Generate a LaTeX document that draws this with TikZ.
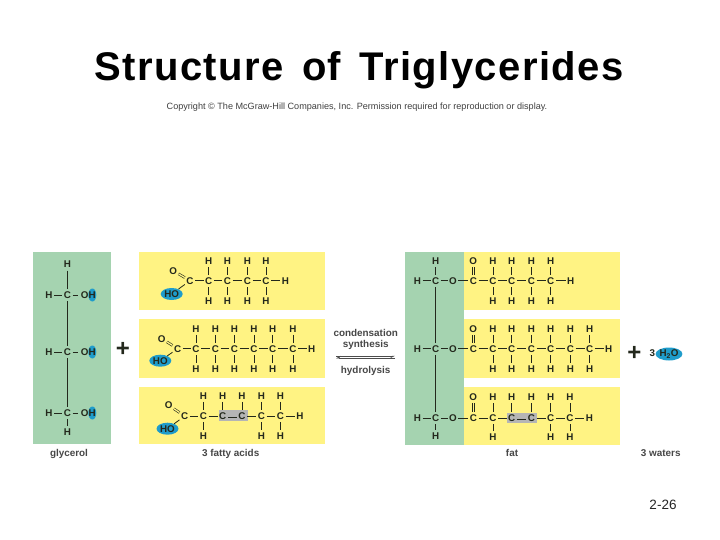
\documentclass[tikz,border=0pt]{standalone}
\usepackage{fontspec}
\setmainfont{Liberation Sans}
\usetikzlibrary{arrows.meta,shapes.geometric}
\definecolor{gl}{HTML}{A5D3B0}
\definecolor{ye}{HTML}{FFF383}
\definecolor{bl}{HTML}{1F9CCB}
\definecolor{gr}{HTML}{B5B5B5}
\definecolor{ink}{HTML}{23281C}
\tikzset{
 atom/.style={inner sep=0pt,minimum width=10pt,minimum height=12pt,font=\bfseries\fontsize{9.8}{10}\selectfont,text=ink},
 bond/.style={draw=ink,line width=0.8pt},
 dbl/.style={draw=ink,line width=0.6pt,double=ye,double distance=1.3pt},
 dblg/.style={draw=ink,line width=0.8pt,double=gr,double distance=1.4pt},
 panelg/.style={fill=gl,draw=none},
 panely/.style={fill=ye,draw=none},
 blob/.style={ellipse,fill=bl,draw=none,inner sep=0pt},
 lab/.style={inner sep=0pt,text height=7pt,text depth=2pt,font=\bfseries\fontsize{9.9}{10}\selectfont,text=black!72},
 plus/.style={inner sep=0pt,font=\bfseries\fontsize{24}{24}\selectfont,text=ink}
}
% \carb{id}{x}{rowy}{topy}{boty}{top?}{bot?}
\newcommand{\carb}[7]{%
 \node[atom] (#1) at (#2,#3) {C};
 \ifnum#6=1 \node[atom] (#1t) at (#2,#4) {H}; \draw[bond] (#1t) -- (#1);\fi
 \ifnum#7=1 \node[atom] (#1b) at (#2,#5) {H}; \draw[bond] (#1b) -- (#1);\fi
}
\begin{document}
\begin{tikzpicture}[x=1pt,y=-1pt]
\useasboundingbox (0,0) rectangle (720,540);
\fill[white] (0,0) rectangle (720,540);
\node[inner sep=0pt,anchor=base,font=\bfseries\fontsize{40}{44}\selectfont,text=black] (title) at (359,81) {\addfontfeature{LetterSpace=3.5}Structure\hspace{6pt} of\hspace{6pt} Triglycerides};
\node[inner sep=0pt,font=\fontsize{9.1}{10}\selectfont,text=black!75] (copy) at (357,107) {Copyright © The McGraw-Hill Companies, Inc. Permission required for reproduction or display.};
\node[inner sep=0pt,font=\fontsize{13.5}{15}\selectfont,text=black!85] (page) at (663,505) {2-26};
% panels
\fill[panelg] (33,252) rectangle (111,444);
\fill[panely] (139.3,252.3) rectangle (325,310);
\fill[panely] (139.3,319.3) rectangle (325,377.7);
\fill[panely] (139.3,386.7) rectangle (325,444.3);
\fill[panely] (464.3,252.3) rectangle (620,310);
\fill[panely] (464.3,319.3) rectangle (620,377.7);
\fill[panely] (464.3,387) rectangle (620,445);
\fill[panelg] (405,252.3) rectangle (464.3,445);
\fill[gr] (218.7,409.7) rectangle (248,421);
\fill[gr] (507.3,412.7) rectangle (536.7,423);
% glycerol
\foreach \n/\y in {a/295,b/352,c/413}{
 \node[blob,minimum width=8pt,minimum height=13pt] (gb\n) at (92.3,\y) {};
 \node[atom] (gh\n) at (49,\y) {H};
 \node[atom] (gc\n) at (67.3,\y) {C};
 \node[atom,minimum width=20pt] (go\n) at (88.3,\y) {OH};
 \draw[bond] (gh\n) -- (gc\n);
 \draw[bond] (gc\n) -- (go\n);
}
\node[atom] (gtop) at (67.3,264.3) {H};
\node[atom] (gbot) at (67.3,432) {H};
\draw[bond] (gtop) -- (gca);
\draw[bond] (gca) -- (gcb);
\draw[bond] (gcb) -- (gcc);
\draw[bond] (gcc) -- (gbot);
\node[lab] (lgly) at (69,454) {glycerol};
\node[plus] (p1) at (123,349.5) {+};
% acid 1
\node[atom] (o1) at (173.3,270.7) {O};
\node[atom] (k1) at (190,280.7) {C};
\node[blob,atom,minimum width=22pt,minimum height=12pt,fill=bl] (ho1) at (171.7,294) {HO};
\draw[dbl] (o1) -- (k1);
\draw[bond] (ho1) -- (k1);
\carb{a1}{208.7}{280.7}{261}{300.7}{1}{1}
\carb{a2}{227.3}{280.7}{261}{300.7}{1}{1}
\carb{a3}{247.3}{280.7}{261}{300.7}{1}{1}
\carb{a4}{266}{280.7}{261}{300.7}{1}{1}
\node[atom] (ae) at (285.3,280.7) {H};
\foreach \p/\q in {k1/a1,a1/a2,a2/a3,a3/a4,a4/ae}{\draw[bond] (\p) -- (\q);}
% acid 2
\node[atom] (o2) at (161.7,338.7) {O};
\node[atom] (k2) at (177.7,348.7) {C};
\node[blob,atom,minimum width=22pt,minimum height=12pt,fill=bl] (ho2) at (160.3,360.7) {HO};
\draw[dbl] (o2) -- (k2);
\draw[bond] (ho2) -- (k2);
\carb{b1}{196}{348.7}{328.7}{368.7}{1}{1}
\carb{b2}{215.3}{348.7}{328.7}{368.7}{1}{1}
\carb{b3}{234.3}{348.7}{328.7}{368.7}{1}{1}
\carb{b4}{254}{348.7}{328.7}{368.7}{1}{1}
\carb{b5}{272.7}{348.7}{328.7}{368.7}{1}{1}
\carb{b6}{293}{348.7}{328.7}{368.7}{1}{1}
\node[atom] (be) at (311.7,348.7) {H};
\foreach \p/\q in {k2/b1,b1/b2,b2/b3,b3/b4,b4/b5,b5/b6,b6/be}{\draw[bond] (\p) -- (\q);}
% acid 3
\node[atom] (o3) at (168.7,405.3) {O};
\node[atom] (k3) at (184.7,416) {C};
\node[blob,atom,minimum width=22pt,minimum height=12pt,fill=bl] (ho3) at (167.5,428.7) {HO};
\draw[dbl] (o3) -- (k3);
\draw[bond] (ho3) -- (k3);
\carb{c1}{203.3}{416}{395.7}{435.7}{1}{1}
\carb{c2}{222.7}{416}{395.7}{435.7}{1}{0}
\carb{c3}{242}{416}{395.7}{435.7}{1}{0}
\carb{c4}{261.3}{416}{395.7}{435.7}{1}{1}
\carb{c5}{280.3}{416}{395.7}{435.7}{1}{1}
\node[atom] (ce) at (300,416) {H};
\draw[dblg] (c2) -- (c3);
\foreach \p/\q in {k3/c1,c1/c2,c3/c4,c4/c5,c5/ce}{\draw[bond] (\p) -- (\q);}
\node[lab] (lfa) at (230.7,454) {3 fatty acids};
% reaction arrows
\node[lab] (l1) at (365.7,334.3) {condensation};
\node[lab] (l2) at (365.7,345.3) {synthesis};
\node[lab] (l3) at (365.7,371) {hydrolysis};
\coordinate (ar1) at (336,356);
\coordinate (ar2) at (395,356);
\coordinate (ar3) at (395,358);
\coordinate (ar4) at (336,358);
\draw[draw=black!70,line width=0.5pt,-{Stealth[harpoon,swap,length=4pt,width=4pt]}] (ar1) -- (ar2);
\draw[draw=black!70,line width=0.5pt,-{Stealth[harpoon,swap,length=4pt,width=4pt]}] (ar3) -- (ar4);
% fat
\foreach \n/\y/\top/\bot in {a/280.7/261/301,b/348.7/328.7/368.7,c/418/397/437.3}{
 \node[atom] (fh\n) at (417.3,\y) {H};
 \node[atom] (fc\n) at (435.7,\y) {C};
 \node[atom] (fo\n) at (453,\y) {O};
 \node[atom] (fk\n) at (473.3,\y) {C};
 \node[atom] (fd\n) at (473.3,\top) {O};
 \draw[bond] (fh\n) -- (fc\n);
 \draw[bond] (fc\n) -- (fo\n);
 \draw[bond] (fo\n) -- (fk\n);
 \draw[dbl] (fd\n) -- (fk\n);
}
\node[atom] (ftop) at (435.7,261) {H};
\node[atom] (fbot) at (435.7,435.7) {H};
\draw[bond] (ftop) -- (fca);
\draw[bond] (fca) -- (fcb);
\draw[bond] (fcb) -- (fcc);
\draw[bond] (fcc) -- (fbot);
% fat chain 1
\carb{d1}{493}{280.7}{261}{301}{1}{1}
\carb{d2}{511.7}{280.7}{261}{301}{1}{1}
\carb{d3}{531.3}{280.7}{261}{301}{1}{1}
\carb{d4}{550.7}{280.7}{261}{301}{1}{1}
\node[atom] (de) at (570.7,280.7) {H};
\foreach \p/\q in {fka/d1,d1/d2,d2/d3,d3/d4,d4/de}{\draw[bond] (\p) -- (\q);}
% fat chain 2
\carb{e1}{493}{348.7}{328.7}{368.7}{1}{1}
\carb{e2}{511.7}{348.7}{328.7}{368.7}{1}{1}
\carb{e3}{531.3}{348.7}{328.7}{368.7}{1}{1}
\carb{e4}{550.7}{348.7}{328.7}{368.7}{1}{1}
\carb{e5}{570.3}{348.7}{328.7}{368.7}{1}{1}
\carb{e6}{589.7}{348.7}{328.7}{368.7}{1}{1}
\node[atom] (ee) at (608.7,348.7) {H};
\foreach \p/\q in {fkb/e1,e1/e2,e2/e3,e3/e4,e4/e5,e5/e6,e6/ee}{\draw[bond] (\p) -- (\q);}
% fat chain 3
\carb{f1}{493}{418}{397}{437.3}{1}{1}
\carb{f2}{511.7}{418}{397}{437.3}{1}{0}
\carb{f3}{531.3}{418}{397}{437.3}{1}{0}
\carb{f4}{550.7}{418}{397}{437.3}{1}{1}
\carb{f5}{570}{418}{397}{437.3}{1}{1}
\node[atom] (fe) at (589.3,418) {H};
\draw[dblg] (f2) -- (f3);
\foreach \p/\q in {fkc/f1,f1/f2,f3/f4,f4/f5,f5/fe}{\draw[bond] (\p) -- (\q);}
\node[lab] (lfat) at (512,454) {fat};
% water
\node[plus] (p2) at (634.3,353) {+};
\node[atom,minimum width=5pt] (n3) at (652.3,353.3) {3};
\node[blob,atom,fill=bl,minimum width=24pt,minimum height=13pt] (w) at (669,354) {H\textsubscript{2}O};
\node[lab] (lw) at (660.7,454) {3 waters};
\end{tikzpicture}
\end{document}
